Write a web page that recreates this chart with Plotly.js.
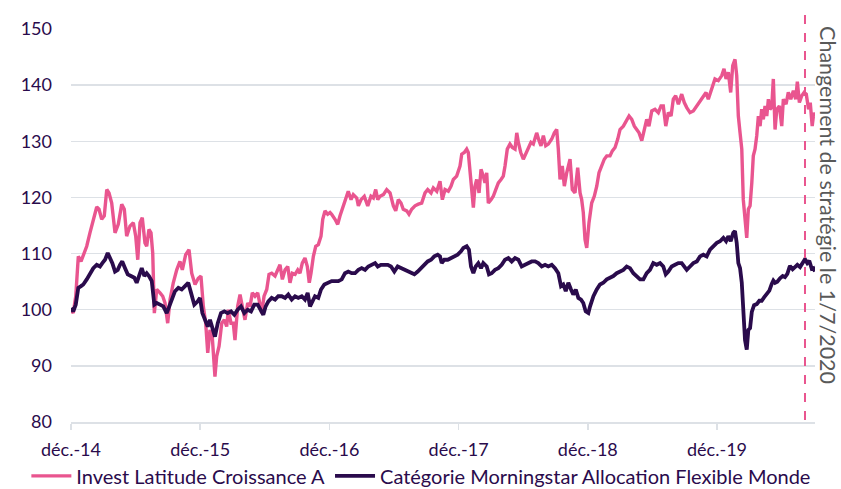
<!DOCTYPE html>
<html>
<head>
<meta charset="utf-8">
<script src="https://cdn.plot.ly/plotly-3.0.1.min.js"></script>
<style>html,body{margin:0;padding:0;background:#fff;}#chart{width:841px;height:489px;}</style>
</head>
<body>
<div id="chart"></div>
<script>
// x = months since déc. 2014, y = base-100 value
const seriesNames = ["Invest Latitude Croissance A", "Catégorie Morningstar Allocation Flexible Monde"];
const tickMonths = [0, 12, 24, 36, 48, 60];
const tickLabels = ["déc.-14", "déc.-15", "déc.-16", "déc.-17", "déc.-18", "déc.-19"];
const strategyChangeMonth = 68.17;
const strategyLabel = "Changement de stratégie le 1/7/2020";

const fundData = [
[0,100.0],[0.21,99.4],[0.44,102.4],[0.68,109.5],[0.93,108.6],[1.14,109.8],[1.46,111.3],[1.76,113.7],[2.07,116.1],[2.39,118.3],
[2.60,117.9],[2.85,116.1],[3.09,116.7],[3.32,121.4],[3.53,120.8],[3.78,119.0],[4.09,113.7],[4.39,115.2],[4.71,118.8],[4.95,117.9],
[5.17,113.1],[5.48,114.9],[5.79,115.5],[6.01,113.1],[6.20,108.9],[6.41,115.5],[6.62,116.4],[6.87,111.9],[7.03,111.3],[7.24,114.3],
[7.43,113.7],[7.59,110.1],[7.74,99.4],[7.96,103.6],[8.27,103.0],[8.52,102.4],[8.73,101.2],[8.98,97.6],[9.20,101.8],[9.50,104.8],
[9.82,107.1],[10.12,108.6],[10.34,107.1],[10.65,109.8],[10.96,110.7],[11.21,106.5],[11.52,104.5],[11.82,105.6],[12.07,106.0],[12.29,100.6],
[12.51,97.6],[12.70,92.3],[12.91,96.4],[13.12,95.2],[13.37,88.1],[13.53,91.7],[13.75,93.5],[14.00,97.6],[14.24,98.2],[14.46,97.0],
[14.61,100.0],[14.86,97.6],[15.07,97.6],[15.23,94.6],[15.48,100.6],[15.70,102.7],[15.91,100.6],[16.16,98.2],[16.41,101.2],[16.63,100.6],
[16.84,103.0],[17.09,102.4],[17.34,103.0],[17.55,100.6],[17.71,99.4],[17.93,102.4],[18.18,103.6],[18.39,106.3],[18.64,106.5],[18.95,106.0],
[19.20,107.1],[19.41,108.0],[19.63,105.4],[19.88,107.1],[20.13,107.7],[20.34,104.8],[20.55,106.5],[20.81,106.3],[21.06,107.1],[21.27,106.5],
[21.48,108.3],[21.73,109.2],[21.95,107.7],[22.13,104.8],[22.29,106.5],[22.51,109.5],[22.73,111.3],[22.97,111.6],[23.22,113.1],[23.38,116.1],
[23.59,117.6],[23.84,117.0],[24.06,117.3],[24.21,117.0],[24.52,116.1],[24.77,115.2],[24.98,116.7],[25.20,117.9],[25.45,119.6],[25.75,121.1],
[26.01,119.6],[26.22,120.5],[26.54,119.9],[26.69,118.5],[26.94,119.6],[27.24,120.2],[27.56,118.5],[27.86,120.2],[28.08,119.9],[28.30,121.4],
[28.49,119.6],[28.70,120.2],[29.01,120.5],[29.32,121.4],[29.63,120.8],[29.94,118.5],[30.16,117.6],[30.40,119.6],[30.65,119.0],[30.86,117.9],
[31.18,117.6],[31.39,117.0],[31.64,117.9],[31.95,118.5],[32.26,118.8],[32.57,119.0],[32.88,120.8],[33.13,121.4],[33.44,120.8],[33.65,121.7],
[33.97,121.1],[34.27,122.9],[34.49,119.6],[34.74,121.4],[35.04,121.1],[35.29,122.0],[35.51,123.2],[35.82,123.8],[36.13,125.6],[36.29,127.7],
[36.53,128.0],[36.75,128.6],[36.90,128.0],[37.06,124.4],[37.22,120.2],[37.37,118.2],[37.52,122.0],[37.68,123.2],[37.90,120.8],[38.08,125.0],
[38.29,123.8],[38.45,122.6],[38.61,124.4],[38.76,119.0],[39.01,119.6],[39.22,120.2],[39.45,121.4],[39.69,122.6],[39.94,123.2],[40.15,123.8],
[40.31,125.6],[40.52,128.6],[40.77,129.5],[40.99,128.9],[41.24,128.6],[41.40,131.5],[41.55,129.8],[41.77,128.0],[42.01,126.8],[42.23,127.7],
[42.47,128.6],[42.72,129.8],[42.94,129.5],[43.25,131.5],[43.47,130.1],[43.65,129.2],[43.87,131.0],[44.09,129.2],[44.33,129.5],[44.65,130.4],
[44.89,131.5],[45.11,132.1],[45.26,128.6],[45.42,123.2],[45.63,125.6],[45.82,122.0],[46.04,124.4],[46.35,126.8],[46.56,121.4],[46.81,120.8],
[47.06,125.3],[47.28,120.8],[47.43,119.6],[47.58,117.3],[47.74,112.5],[47.90,111.0],[48.11,115.5],[48.36,119.0],[48.60,120.2],[48.83,122.0],
[49.04,124.4],[49.29,125.6],[49.53,126.8],[49.76,127.4],[50.06,127.4],[50.28,128.3],[50.53,128.9],[50.78,130.4],[50.99,132.1],[51.30,132.7],
[51.61,133.6],[51.83,134.5],[52.08,133.9],[52.32,132.7],[52.54,132.1],[52.76,131.5],[53.01,130.1],[53.25,132.1],[53.47,133.9],[53.68,132.7],
[53.94,135.4],[54.24,135.7],[54.55,135.1],[54.80,136.3],[55.01,136.3],[55.24,132.7],[55.48,135.1],[55.73,134.5],[55.94,137.5],[56.16,138.1],
[56.41,136.6],[56.72,138.4],[56.96,136.9],[57.19,136.0],[57.49,135.1],[57.80,135.4],[58.12,136.3],[58.42,137.2],[58.73,138.1],[58.98,138.7],
[59.19,137.5],[59.51,139.3],[59.81,141.1],[60.12,140.8],[60.44,141.7],[60.65,142.9],[60.84,141.1],[61.05,142.3],[61.27,138.7],[61.46,143.5],
[61.67,144.6],[61.83,141.7],[61.98,134.5],[62.14,131.5],[62.30,128.6],[62.44,119.6],[62.60,115.5],[62.76,112.8],[62.91,117.9],[63.07,118.5],
[63.23,122.6],[63.37,127.4],[63.53,128.6],[63.69,131.0],[63.84,134.5],[64.00,132.7],[64.15,135.7],[64.30,133.9],[64.46,136.3],[64.62,134.5],
[64.77,137.5],[64.92,135.7],[65.08,136.0],[65.23,141.1],[65.39,132.1],[65.55,135.7],[65.79,136.3],[66.01,132.7],[66.16,137.5],[66.41,136.6],
[66.62,138.7],[66.85,137.5],[67.09,139.0],[67.31,137.5],[67.46,140.6],[67.65,136.9],[67.87,138.1],[68.09,138.7],[68.29,138.4],[68.50,135.7],
[68.66,136.9],[68.84,132.7],[68.99,135.1],[69.10,134.5]
];

const categoryData = [
[0,100.3],[0.21,99.7],[0.44,100.9],[0.68,103.9],[0.93,104.2],[1.14,104.5],[1.46,105.4],[1.76,106.5],[2.07,107.4],[2.39,108.0],
[2.69,107.7],[2.91,108.3],[3.16,108.9],[3.41,110.1],[3.62,109.2],[3.84,108.3],[4.09,106.8],[4.34,107.1],[4.55,108.0],[4.76,108.6],
[5.02,107.4],[5.27,106.3],[5.57,106.0],[5.88,105.7],[6.10,104.8],[6.32,106.3],[6.57,107.4],[6.81,106.0],[7.03,106.5],[7.24,106.0],
[7.50,105.1],[7.74,100.9],[7.96,101.2],[8.27,100.9],[8.57,100.6],[8.89,99.4],[9.10,100.6],[9.35,101.5],[9.66,103.3],[9.97,103.9],
[10.28,103.6],[10.59,104.2],[10.89,104.8],[11.15,103.0],[11.45,100.9],[11.77,101.5],[11.98,102.1],[12.20,99.4],[12.45,98.2],[12.70,97.0],
[12.91,98.2],[13.12,97.0],[13.37,95.2],[13.63,97.6],[13.93,99.4],[14.24,99.7],[14.55,99.4],[14.86,99.7],[15.17,99.1],[15.48,100.0],
[15.79,100.6],[16.10,99.4],[16.41,100.0],[16.72,99.7],[17.02,100.9],[17.34,100.9],[17.65,99.7],[17.86,99.1],[18.08,100.6],[18.33,101.5],
[18.64,102.1],[18.95,101.8],[19.25,102.4],[19.57,102.4],[19.88,102.1],[20.18,102.7],[20.50,101.8],[20.81,102.4],[21.11,102.1],[21.43,102.4],
[21.73,101.8],[21.98,103.0],[22.20,100.6],[22.41,101.5],[22.66,102.4],[22.97,102.1],[23.22,103.6],[23.53,104.5],[23.90,104.8],[24.21,105.1],
[24.52,105.1],[24.83,105.1],[25.14,105.4],[25.45,106.5],[25.75,106.8],[26.07,106.5],[26.38,106.5],[26.69,107.1],[27.00,107.4],[27.31,107.1],
[27.61,107.7],[27.93,108.0],[28.24,108.3],[28.49,107.7],[28.79,108.0],[29.10,108.0],[29.42,108.0],[29.72,107.7],[30.03,106.8],[30.34,107.7],
[30.65,107.4],[30.96,107.1],[31.27,106.8],[31.58,106.5],[31.89,106.3],[32.20,106.8],[32.51,107.4],[32.81,108.0],[33.13,108.6],[33.44,108.9],
[33.74,109.5],[34.06,109.8],[34.27,109.5],[34.43,108.3],[34.67,108.9],[34.99,108.9],[35.29,109.2],[35.60,109.5],[35.91,109.8],[36.22,110.4],
[36.44,111.0],[36.75,111.3],[36.96,110.7],[37.15,107.7],[37.37,106.5],[37.59,107.7],[37.83,108.3],[38.08,107.4],[38.29,108.3],[38.61,107.7],
[38.82,106.3],[39.07,106.5],[39.38,107.1],[39.69,107.4],[40.00,108.0],[40.31,108.9],[40.62,109.2],[40.93,108.6],[41.24,109.2],[41.55,108.9],
[41.86,107.7],[42.17,108.0],[42.47,108.3],[42.79,108.6],[43.10,108.6],[43.40,108.3],[43.72,107.7],[44.03,108.0],[44.33,107.7],[44.65,108.0],
[44.95,107.4],[45.26,106.5],[45.51,104.2],[45.72,104.5],[45.95,103.3],[46.19,104.8],[46.44,103.6],[46.65,102.7],[46.88,103.6],[47.12,102.1],
[47.37,101.8],[47.58,101.2],[47.80,99.7],[48.05,99.4],[48.21,100.6],[48.52,102.4],[48.83,103.6],[49.13,104.5],[49.44,104.8],[49.76,105.4],
[50.06,105.7],[50.37,106.0],[50.68,106.5],[50.99,106.8],[51.30,107.1],[51.61,107.7],[51.92,107.4],[52.23,106.5],[52.54,106.0],[52.85,105.4],
[53.16,105.4],[53.47,106.5],[53.77,107.1],[54.08,108.3],[54.40,108.0],[54.71,108.3],[55.01,107.7],[55.24,106.3],[55.48,106.8],[55.79,107.7],
[56.10,108.0],[56.41,108.3],[56.72,108.3],[56.96,107.7],[57.19,107.1],[57.49,107.7],[57.80,108.3],[58.12,108.6],[58.42,109.5],[58.73,109.8],
[59.04,109.5],[59.35,110.7],[59.66,111.3],[59.98,111.9],[60.28,112.2],[60.59,112.8],[60.84,112.2],[61.05,113.1],[61.27,112.2],[61.51,113.7],
[61.67,114.0],[61.83,111.9],[61.98,108.3],[62.14,107.4],[62.30,104.8],[62.44,98.8],[62.60,94.6],[62.76,92.9],[62.91,96.4],[63.07,96.7],
[63.23,99.6],[63.44,100.8],[63.69,101.0],[63.93,101.6],[64.15,101.6],[64.37,102.2],[64.62,102.8],[64.86,103.4],[65.08,104.6],[65.23,105.2],
[65.39,104.8],[65.60,105.0],[65.85,105.6],[66.10,106.0],[66.31,105.8],[66.53,106.4],[66.77,107.8],[67.02,107.2],[67.24,107.6],[67.46,108.0],
[67.71,107.6],[67.96,108.4],[68.17,109.0],[68.38,108.3],[68.57,108.7],[68.80,107.3],[68.95,107.4],[69.10,106.8]
];

const pinkColor = "#E9558F";
const purpleColor = "#2A0B4C";
const textColor = "#2A0B4C";
const gridColor = "#DDE1E6";
const fontFamily = "Lato, 'Open Sans', sans-serif";

const traces = [
  {
    x: fundData.map(d => d[0]), y: fundData.map(d => d[1]),
    type: "scatter", mode: "lines", name: seriesNames[0],
    line: {color: pinkColor, width: 3.4}
  },
  {
    x: categoryData.map(d => d[0]), y: categoryData.map(d => d[1]),
    type: "scatter", mode: "lines", name: seriesNames[1],
    line: {color: purpleColor, width: 3.8}
  }
];

const layout = {
  width: 841, height: 489,
  margin: {l: 71, r: 26, t: 29, b: 67, autoexpand: false},
  paper_bgcolor: "#fff", plot_bgcolor: "#fff",
  font: {family: fontFamily, color: textColor, size: 18},
  showlegend: true,
  legend: {
    orientation: "h", xref: "paper", yref: "paper",
    x: -0.06, xanchor: "left", y: -0.137, yanchor: "middle",
    bgcolor: "rgba(0,0,0,0)",
    font: {family: fontFamily, size: 20, color: textColor},
    itemwidth: 40, tracegroupgap: 0
  },
  xaxis: {
    range: [0, 69.1],
    tickmode: "array", tickvals: tickMonths, ticktext: tickLabels,
    showgrid: false, zeroline: false,
    showline: true, linecolor: gridColor, linewidth: 1.5,
    ticks: "outside", ticklen: 6, tickcolor: gridColor, tickwidth: 1.5,
    tickfont: {family: fontFamily, size: 18, color: textColor},
    ticklabelstandoff: 5
  },
  yaxis: {
    range: [80, 150], dtick: 10, tick0: 80,
    showgrid: true, gridcolor: gridColor, gridwidth: 1.5,
    zeroline: false, showline: false, ticks: "",
    tickfont: {family: fontFamily, size: 18, color: textColor},
    ticklabelstandoff: 18
  },
  shapes: [{
    type: "line", xref: "x", yref: "paper",
    x0: strategyChangeMonth, x1: strategyChangeMonth, y0: 0.005, y1: 1.057,
    line: {color: pinkColor, width: 2, dash: "dash"}
  }],
  annotations: [{
    text: strategyLabel, xref: "paper", yref: "paper",
    x: 1.0175, y: 0.552, xanchor: "center", yanchor: "middle",
    textangle: 90, showarrow: false,
    font: {family: fontFamily, size: 21.5, color: "#595959"}
  }]
};

Plotly.newPlot("chart", traces, layout, {displayModeBar: false, staticPlot: true});
</script>
</body>
</html>
